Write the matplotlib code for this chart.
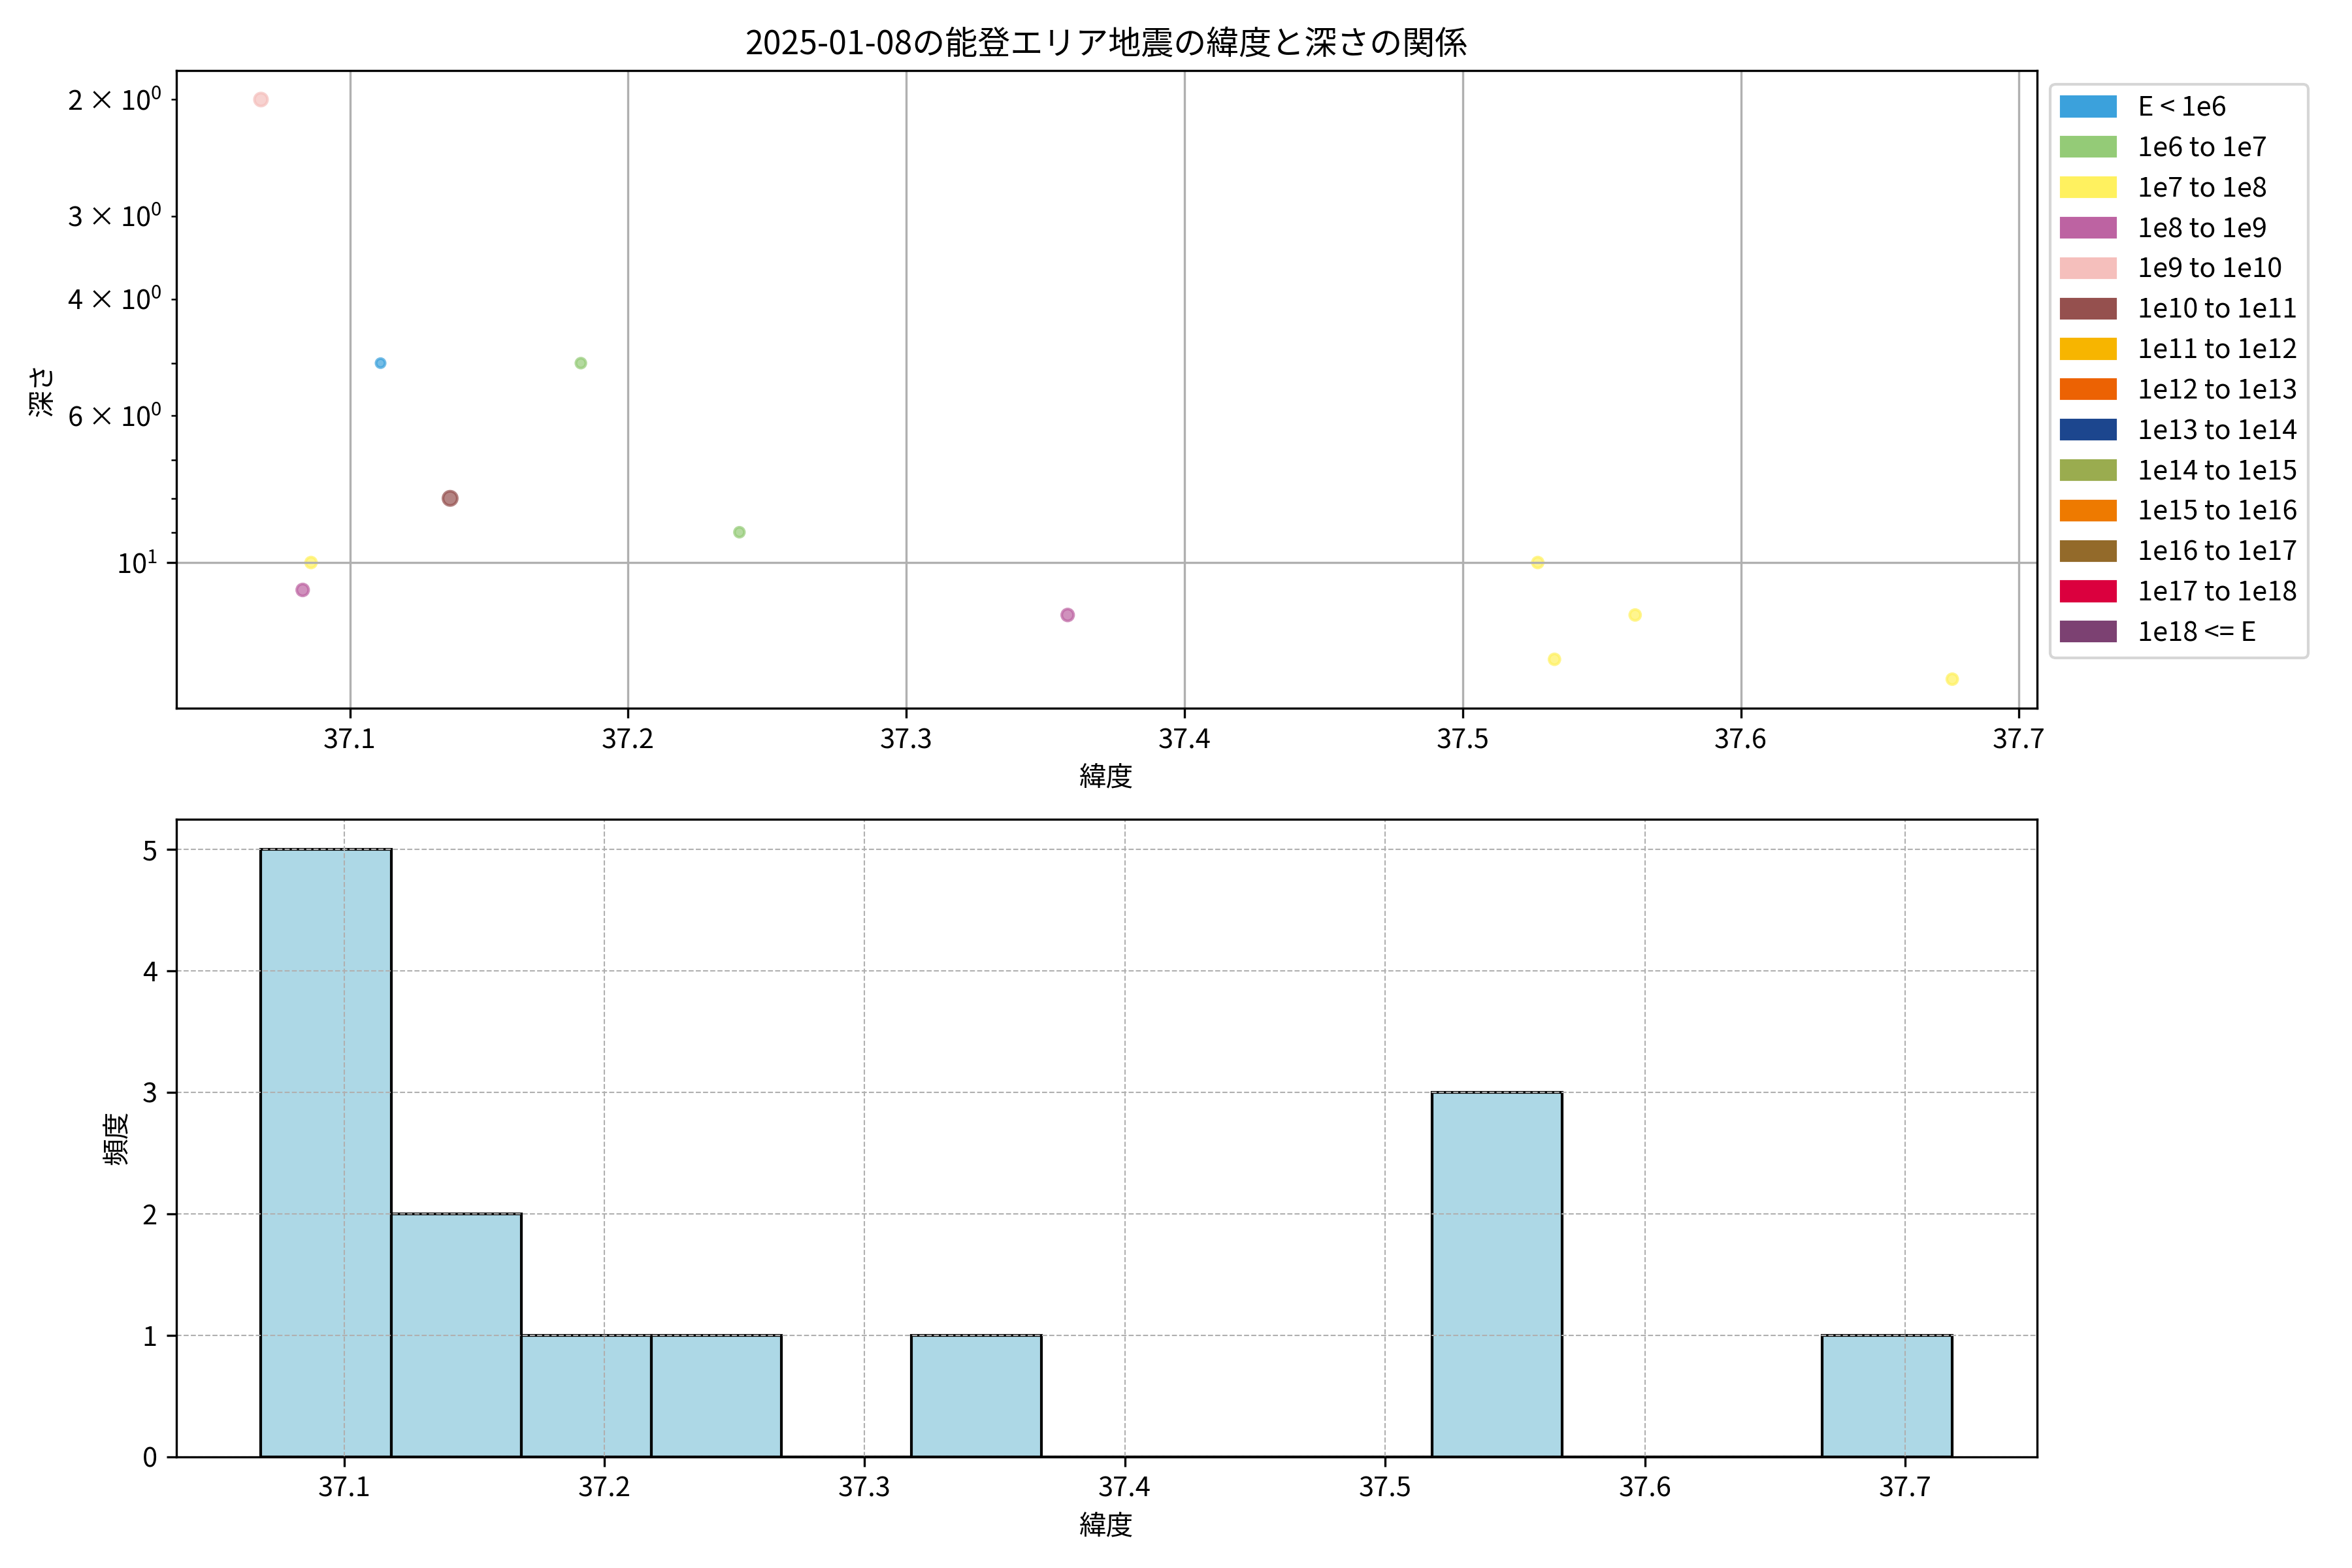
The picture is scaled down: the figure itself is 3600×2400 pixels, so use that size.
import matplotlib
matplotlib.use("Agg")
import matplotlib.pyplot as plt
import numpy as np
from matplotlib.patches import Patch

plt.rcParams['font.family'] = ['Noto Sans CJK JP', 'DejaVu Sans']
plt.rcParams['axes.unicode_minus'] = False

# 地震データ (緯度, 深さ, エネルギー区分)
latitudes = [37.068, 37.086, 37.083, 37.111, 37.100, 37.136, 37.140, 37.183,
             37.240, 37.358, 37.527, 37.533, 37.562, 37.676]
depths = [2, 10, 11, 5, np.nan, 8, np.nan, 5, 9, 12, 10, 14, 12, 15]
energy_class = [4, 2, 3, 0, 0, 5, 5, 1, 1, 3, 2, 2, 2, 2]

class_labels = ['E < 1e6', '1e6 to 1e7', '1e7 to 1e8', '1e8 to 1e9', '1e9 to 1e10',
                '1e10 to 1e11', '1e11 to 1e12', '1e12 to 1e13', '1e13 to 1e14',
                '1e14 to 1e15', '1e15 to 1e16', '1e16 to 1e17', '1e17 to 1e18',
                '1e18 <= E']
class_colors = ['#3BA1DC', '#94CB77', '#FFF15F', '#BD63A2', '#F5BFBC', '#95504E',
                '#F7B500', '#EC6203', '#1C468E', '#9AAC4F', '#EE7A00', '#936A2A',
                '#DB003E', '#7C4172']

lat = np.array(latitudes)
dep = np.array(depths, dtype=float)
cls = np.array(energy_class)

fig, (ax1, ax2) = plt.subplots(2, 1, figsize=(12, 8), dpi=300)

# 散布図
colors = [class_colors[c] for c in cls]
sizes = 11 * 1.2 ** cls
ax1.scatter(lat, dep, c=colors, s=sizes, alpha=0.7)
ax1.set_yscale('log')
ax1.invert_yaxis()
ax1.set_xlabel('緯度')
ax1.set_ylabel('深さ')
ax1.set_title('2025-01-08の能登エリア地震の緯度と深さの関係')
ax1.grid(True)
handles = [Patch(color=col, label=lab) for col, lab in zip(class_colors, class_labels)]
ax1.legend(handles=handles, bbox_to_anchor=(1, 1), loc='upper left')

# ヒストグラム
bins = np.arange(lat.min(), lat.max() + 0.05, 0.05)
ax2.hist(lat, bins=bins, color='lightblue', edgecolor='black')
ax2.set_xlabel('緯度')
ax2.set_ylabel('頻度')
ax2.grid(True, linestyle='--', linewidth=0.5)

plt.subplots_adjust(left=0.075, right=0.866, top=0.955, bottom=0.071, hspace=0.174)
plt.savefig('out.png')
